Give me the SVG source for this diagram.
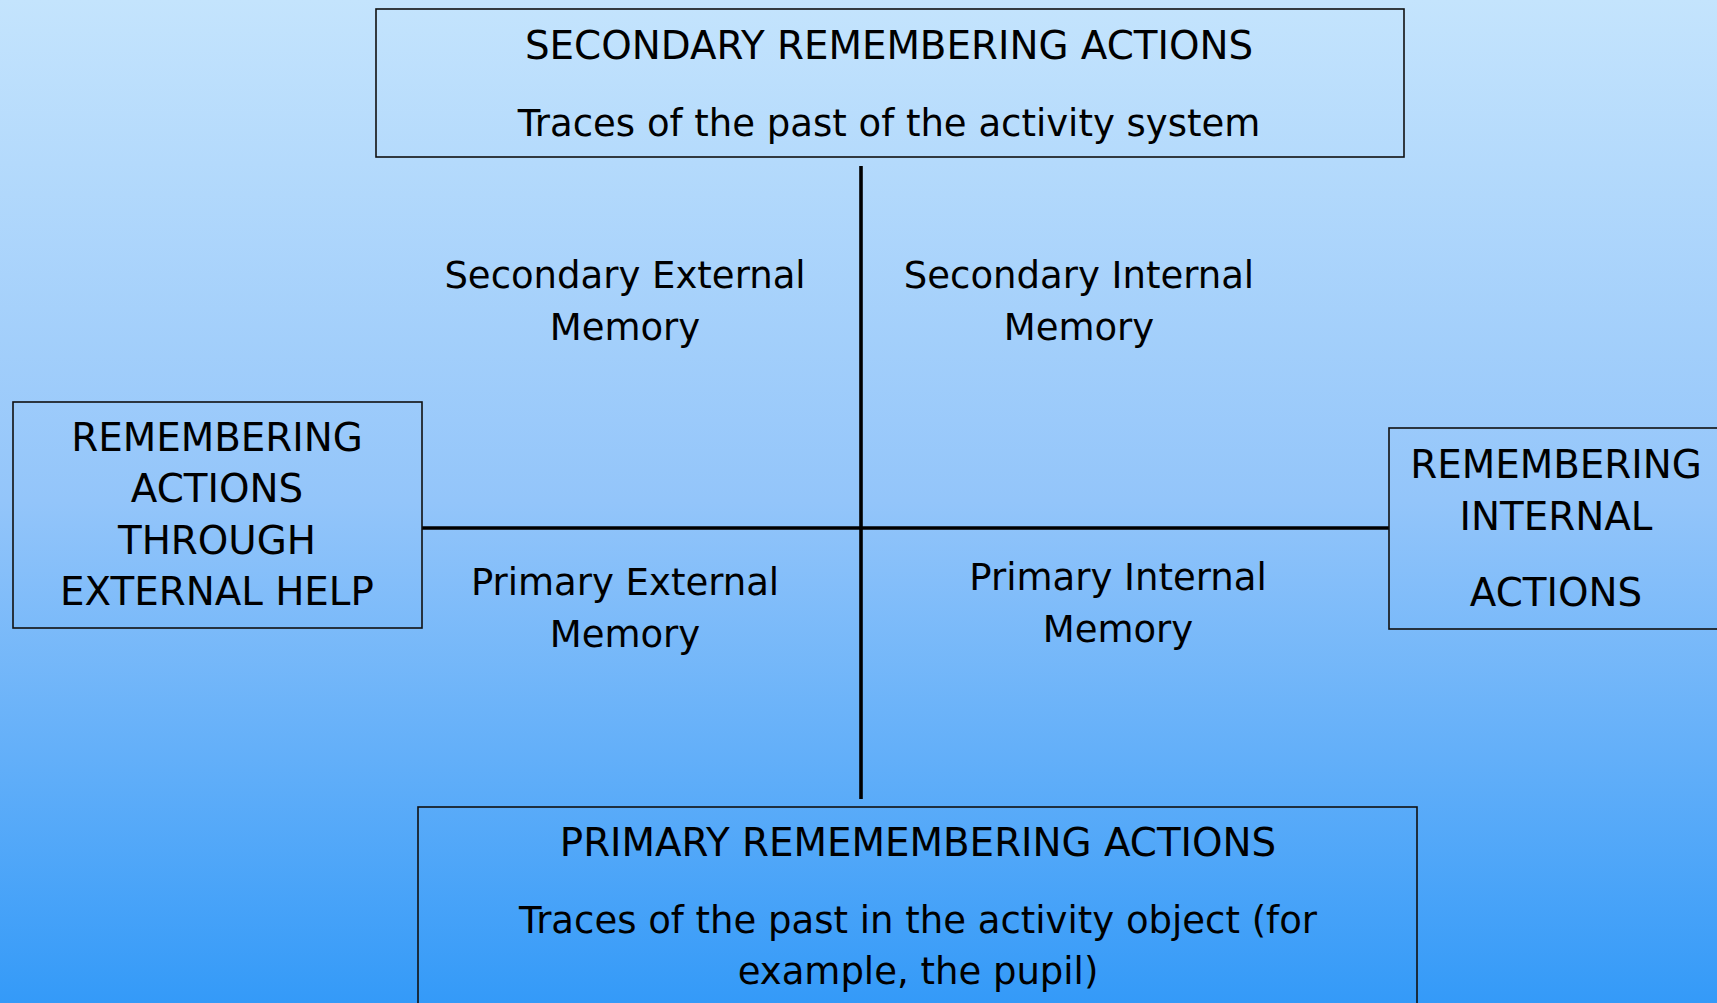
<svg xmlns="http://www.w3.org/2000/svg" width="1717" height="1003" viewBox="0 0 1717 1003">
<defs>
<linearGradient id="bg" x1="0" y1="0" x2="0" y2="1">
<stop offset="0" stop-color="#c4e4fd"/>
<stop offset="0.5" stop-color="#93c5fa"/>
<stop offset="1" stop-color="#349af8"/>
</linearGradient>
</defs>
<style>
.box{fill:none;stroke:#111;stroke-width:1.6}
.ln{stroke:#000;stroke-width:3.6;fill:none}
text{font-family:"DejaVu Sans","Liberation Sans",sans-serif;font-size:37px;fill:#000;text-anchor:middle}
text.cap{font-size:38.8px}
</style>
<rect x="0" y="0" width="1717" height="1003" fill="url(#bg)"/>
<g id="connectors">
<line class="ln" x1="861" y1="166" x2="861" y2="799"/>
<line class="ln" x1="422" y1="528" x2="1389" y2="528"/>
</g>
<g id="secondary-actions">
<rect class="box" x="376" y="9" width="1028" height="148"/>
<text class="cap" x="889" y="59">SECONDARY REMEMBERING ACTIONS</text>
<text x="889" y="136">Traces of the past of the activity system</text>
</g>
<g id="external-help">
<rect class="box" x="13" y="402" width="409" height="226"/>
<text class="cap" x="217" y="451">REMEMBERING</text>
<text class="cap" x="217" y="502">ACTIONS</text>
<text class="cap" x="217" y="554">THROUGH</text>
<text class="cap" x="217" y="605">EXTERNAL HELP</text>
</g>
<g id="internal-actions">
<rect class="box" x="1389" y="428" width="340" height="201"/>
<text class="cap" x="1556" y="478">REMEMBERING</text>
<text class="cap" x="1556" y="530">INTERNAL</text>
<text class="cap" x="1556" y="606">ACTIONS</text>
</g>
<g id="primary-actions">
<rect class="box" x="418" y="807" width="999" height="210"/>
<text class="cap" x="918" y="856">PRIMARY REMEMEMBERING ACTIONS</text>
<text x="918" y="933">Traces of the past in the activity object (for</text>
<text x="918" y="984">example, the pupil)</text>
</g>
<g id="secondary-external">
<text x="625" y="288">Secondary External</text>
<text x="625" y="340">Memory</text>
</g>
<g id="secondary-internal">
<text x="1079" y="288">Secondary Internal</text>
<text x="1079" y="340">Memory</text>
</g>
<g id="primary-external">
<text x="625" y="595">Primary External</text>
<text x="625" y="647">Memory</text>
</g>
<g id="primary-internal">
<text x="1118" y="590">Primary Internal</text>
<text x="1118" y="642">Memory</text>
</g>
</svg>
